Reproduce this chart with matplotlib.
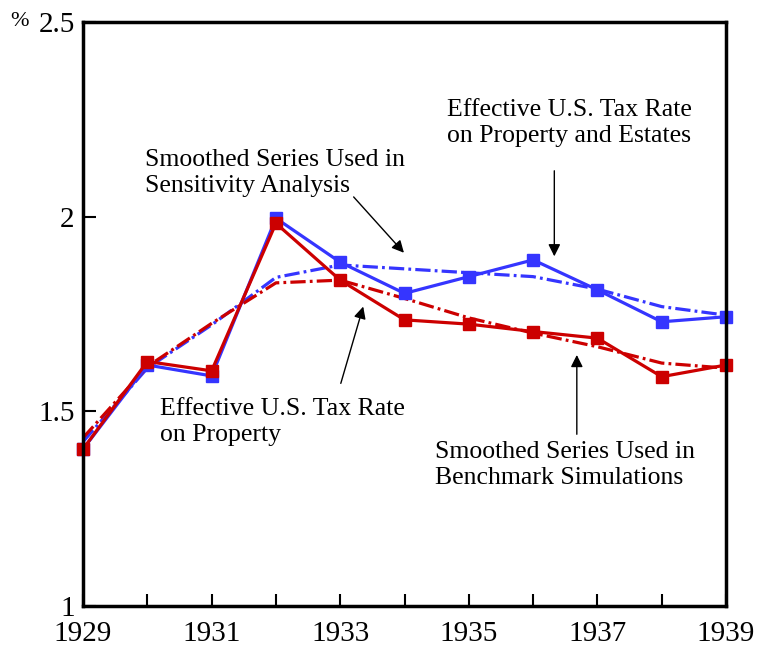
import matplotlib
matplotlib.use("Agg")
import matplotlib.pyplot as plt
from matplotlib.ticker import MultipleLocator

plt.rcParams['font.family'] = ['Liberation Serif', 'DejaVu Serif']
plt.rcParams['lines.scale_dashes'] = False

years = [1929, 1930, 1931, 1932, 1933, 1934, 1935, 1936, 1937, 1938, 1939]

# Effective U.S. tax rate on property and estates (blue, solid)
prop_estates = [1.403, 1.619, 1.591, 1.996, 1.883, 1.803, 1.846, 1.889, 1.812, 1.730, 1.743]
# Effective U.S. tax rate on property (red, solid)
prop_only = [1.403, 1.628, 1.604, 1.983, 1.837, 1.735, 1.724, 1.705, 1.688, 1.589, 1.619]
# Smoothed series used in sensitivity analysis (blue, dash-dot)
smooth_sens = [1.422, 1.611, 1.722, 1.844, 1.876, 1.866, 1.856, 1.846, 1.814, 1.769, 1.747]
# Smoothed series used in benchmark simulations (red, dash-dot)
smooth_bench = [1.432, 1.615, 1.726, 1.830, 1.837, 1.790, 1.740, 1.701, 1.666, 1.624, 1.611]

x_ticks = [1929, 1931, 1933, 1935, 1937, 1939]
y_ticks = [1, 1.5, 2, 2.5]
y_labels = ["1", "1.5", "2", "2.5"]

BLUE = "#3535ff"
RED = "#cc0000"
dashdot = (0, (11, 3, 2, 3))

fig = plt.figure(figsize=(7.59, 6.51), dpi=100)
ax = fig.add_axes([0.1094, 0.0691, 0.8471, 0.8971])

ax.plot(years, smooth_sens, color=BLUE, lw=2.3, linestyle=dashdot)
ax.plot(years, smooth_bench, color=RED, lw=2.3, linestyle=dashdot)
ax.plot(years, prop_estates, color=BLUE, lw=2.3, marker='s', markersize=8.5, clip_on=False)
ax.plot(years, prop_only, color=RED, lw=2.3, marker='s', markersize=8.5, clip_on=False)

ax.set_xlim(1929, 1939)
ax.set_ylim(1, 2.5)
ax.set_xticks(x_ticks)
ax.xaxis.set_minor_locator(MultipleLocator(1))
ax.set_yticks(y_ticks)
ax.set_yticklabels(y_labels)
ax.tick_params(which='both', direction='in', length=9, width=1.5, labelsize=21)
ax.tick_params(axis='x', pad=11)
ax.tick_params(axis='y', pad=6)
for sp in ax.spines.values():
    sp.set_linewidth(2.5)

fig.text(0.013, 0.967, "%", fontsize=16, va='center')

fs = 18.5
ls = 1.22
arrow = dict(arrowstyle='-|>', color='black', lw=1, mutation_scale=18)
ax.text(1934.66, 2.302, "Effective U.S. Tax Rate\non Property and Estates",
        fontsize=fs, va='top', ha='left', linespacing=ls)
ax.text(1929.96, 2.174, "Smoothed Series Used in\nSensitivity Analysis",
        fontsize=fs, va='top', ha='left', linespacing=ls)
ax.text(1930.20, 1.534, "Effective U.S. Tax Rate\non Property",
        fontsize=fs, va='top', ha='left', linespacing=ls)
ax.text(1934.47, 1.423, "Smoothed Series Used in\nBenchmark Simulations",
        fontsize=fs, va='top', ha='left', linespacing=ls)

ax.annotate("", xy=(1934.02, 1.902), xytext=(1933.18, 2.056), arrowprops=arrow)
ax.annotate("", xy=(1936.33, 1.891), xytext=(1936.33, 2.125), arrowprops=arrow)
ax.annotate("", xy=(1933.37, 1.776), xytext=(1932.997, 1.565), arrowprops=arrow)
ax.annotate("", xy=(1936.68, 1.652), xytext=(1936.68, 1.434), arrowprops=arrow)

fig.savefig("out.png", dpi=100)
